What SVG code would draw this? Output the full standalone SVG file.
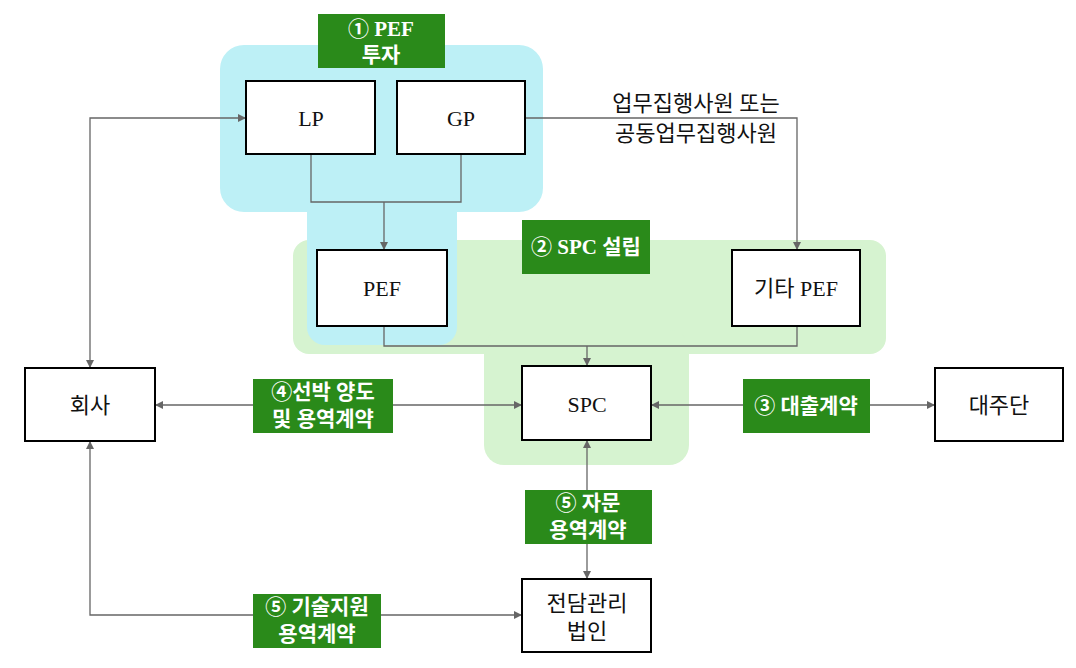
<svg xmlns="http://www.w3.org/2000/svg" width="1076" height="668" viewBox="0 0 1076 668">
<style>
.box{fill:#fff;stroke:#000;stroke-width:2}
.t{font-family:"Liberation Serif","Noto Sans CJK KR",serif;font-size:22px;fill:#111;text-anchor:middle;dominant-baseline:central}
.lb{fill:#2a8a1a}
.lt{font-family:"Liberation Serif","Noto Sans CJK KR",serif;font-size:21px;fill:#fff;text-anchor:middle;dominant-baseline:central;font-weight:bold}
.c{fill:none;stroke:#666;stroke-width:1.3}
</style>
<defs>
<marker id="a" viewBox="0 0 10 10" refX="10" refY="5" markerWidth="8" markerHeight="8" orient="auto-start-reverse" markerUnits="userSpaceOnUse">
<path d="M0,0 L10,5 L0,10 z" fill="#666"/>
</marker>
</defs>
<rect width="1076" height="668" fill="#fff"/>
<g id="regions">
<rect x="220" y="45" width="323" height="167" rx="24" fill="#bdf0f6"/>
<rect x="293" y="240" width="593" height="114" rx="16" fill="#d6f3d0"/>
<rect x="484" y="330" width="205" height="135" rx="20" fill="#d6f3d0"/>
<rect x="307" y="190" width="150" height="155" rx="18" fill="#bdf0f6"/>
</g>
<g id="connectors">
<path class="c" d="M311,154 V202 H461 V154"/>
<path class="c" d="M384,202 V250" marker-end="url(#a)"/>
<path class="c" d="M525,118 H797 V250" marker-end="url(#a)"/>
<path class="c" d="M384,326 V346 H797 V326"/>
<path class="c" d="M587,346 V366" marker-end="url(#a)"/>
<path class="c" d="M90,368 V118 H246" marker-start="url(#a)" marker-end="url(#a)"/>
<path class="c" d="M155,405 H522" marker-start="url(#a)" marker-end="url(#a)"/>
<path class="c" d="M651,405 H935" marker-start="url(#a)" marker-end="url(#a)"/>
<path class="c" d="M587,440 V579" marker-start="url(#a)" marker-end="url(#a)"/>
<path class="c" d="M90,441 V615 H522" marker-start="url(#a)" marker-end="url(#a)"/>
</g>
<g id="lp"><rect class="box" x="246" y="81" width="129" height="73"/><text class="t" x="311" y="118">LP</text></g>
<g id="gp"><rect class="box" x="397" y="81" width="128" height="73"/><text class="t" x="461" y="118">GP</text></g>
<g id="pef"><rect class="box" x="317" y="250" width="130" height="76"/><text class="t" x="382" y="288">PEF</text></g>
<g id="other-pef"><rect class="box" x="732" y="250" width="128" height="76"/><text class="t" x="796" y="288">기타 PEF</text></g>
<g id="spc"><rect class="box" x="522" y="366" width="129" height="74"/><text class="t" x="587" y="404">SPC</text></g>
<g id="company"><rect class="box" x="25" y="368" width="130" height="73"/><text class="t" x="90" y="405">회사</text></g>
<g id="lenders"><rect class="box" x="935" y="368" width="128" height="73"/><text class="t" x="999" y="405">대주단</text></g>
<g id="mgmt"><rect class="box" x="522" y="579" width="129" height="73"/><text class="t" x="587" y="603">전담관리</text><text class="t" x="587" y="631">법인</text></g>
<g id="gp-label"><text class="t" x="696" y="103">업무집행사원 또는</text><text class="t" x="696" y="133">공동업무집행사원</text></g>
<g id="label1"><rect class="lb" x="318" y="14" width="127" height="54"/><text class="lt" x="381" y="29">① PEF</text><text class="lt" x="381" y="55">투자</text></g>
<g id="label2"><rect class="lb" x="522" y="220" width="128" height="54"/><text class="lt" x="586" y="247">② SPC 설립</text></g>
<g id="label4"><rect class="lb" x="253" y="379" width="140" height="54"/><text class="lt" x="323" y="392">④선박 양도</text><text class="lt" x="323" y="419">및 용역계약</text></g>
<g id="label3"><rect class="lb" x="743" y="379" width="127" height="54"/><text class="lt" x="806" y="406">③ 대출계약</text></g>
<g id="label5a"><rect class="lb" x="525" y="490" width="127" height="54"/><text class="lt" x="588" y="503">⑤ 자문</text><text class="lt" x="588" y="530">용역계약</text></g>
<g id="label5b"><rect class="lb" x="253" y="594" width="128" height="54"/><text class="lt" x="317" y="607">⑤ 기술지원</text><text class="lt" x="317" y="634">용역계약</text></g>
</svg>
